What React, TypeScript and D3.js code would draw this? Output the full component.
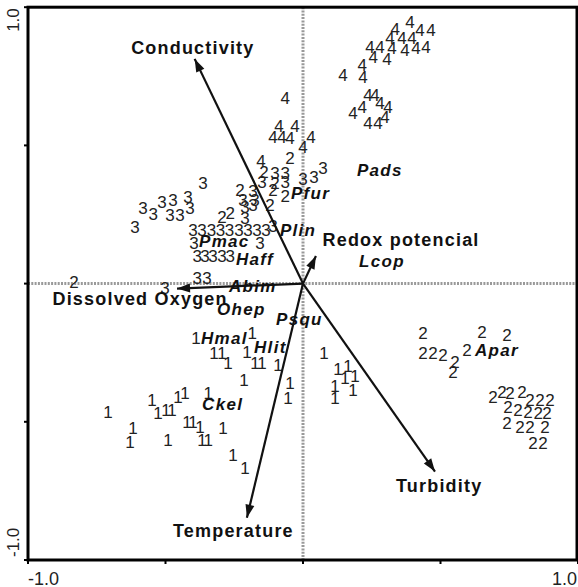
import * as d3 from "d3";

// site scores, grouped by site class (CCA axis 1, axis 2)
const sites1: [number, number][] = [
  [-0.389, -0.196], [-0.185, -0.178], [-0.324, -0.251], [-0.295, -0.251],
  [-0.204, -0.247], [-0.273, -0.287], [-0.175, -0.287], [-0.149, -0.287],
  [-0.091, -0.294], [-0.215, -0.348], [-0.709, -0.464], [-0.549, -0.421],
  [-0.527, -0.468], [-0.498, -0.457], [-0.476, -0.457], [-0.455, -0.41],
  [-0.429, -0.395], [-0.345, -0.395], [-0.618, -0.522], [-0.629, -0.573],
  [-0.491, -0.565], [-0.422, -0.5], [-0.4, -0.5], [-0.375, -0.518],
  [-0.367, -0.565], [-0.345, -0.565], [-0.291, -0.522], [-0.255, -0.62],
  [-0.211, -0.667], [-0.047, -0.359], [-0.055, -0.413], [0.076, -0.251],
  [0.127, -0.309], [0.164, -0.298], [0.153, -0.341], [0.189, -0.334],
  [0.116, -0.37], [0.182, -0.384], [0.116, -0.413],
];

const sites2: [number, number][] = [
  [-0.833, 0.006], [-0.047, 0.455], [-0.142, 0.404], [-0.102, 0.363],
  [-0.229, 0.339], [-0.109, 0.339], [-0.065, 0.317], [-0.12, 0.285],
  [-0.295, 0.241], [-0.265, 0.256],
  [0.436, -0.178], [0.651, -0.175], [0.742, -0.186], [0.436, -0.251],
  [0.473, -0.251], [0.509, -0.258], [0.553, -0.283], [0.545, -0.319],
  [0.596, -0.24], [0.691, -0.41], [0.724, -0.392], [0.753, -0.395],
  [0.796, -0.392], [0.825, -0.421], [0.862, -0.421], [0.898, -0.421],
  [0.745, -0.446], [0.782, -0.457], [0.818, -0.464], [0.855, -0.468],
  [0.887, -0.468], [0.742, -0.504], [0.789, -0.518], [0.825, -0.518],
  [0.88, -0.518], [0.836, -0.576], [0.873, -0.576],
];

const sites3: [number, number][] = [
  [-0.102, 0.4], [-0.065, 0.4], [-0.149, 0.368], [-0.065, 0.368],
  [0.0, 0.379], [0.04, 0.386], [0.073, 0.418], [-0.182, 0.335],
  [-0.218, 0.303], [-0.175, 0.303],
  [-0.582, 0.274], [-0.545, 0.252], [-0.513, 0.295], [-0.473, 0.303],
  [-0.418, 0.314], [-0.484, 0.248], [-0.447, 0.248], [-0.411, 0.274],
  [-0.364, 0.364], [-0.611, 0.205],
  [-0.211, 0.277], [-0.182, 0.285], [-0.211, 0.238],
  [-0.4, 0.194], [-0.367, 0.194], [-0.333, 0.194], [-0.3, 0.194],
  [-0.267, 0.194], [-0.233, 0.194], [-0.2, 0.194], [-0.167, 0.194],
  [-0.135, 0.194], [-0.109, 0.208],
  [-0.396, 0.147], [-0.156, 0.147],
  [-0.385, 0.1], [-0.356, 0.1], [-0.327, 0.1], [-0.295, 0.1], [-0.265, 0.1],
  [-0.385, 0.021], [-0.349, 0.021], [-0.502, -0.016],
];

const sites4: [number, number][] = [
  [0.389, 0.946], [0.335, 0.921], [0.425, 0.918], [0.465, 0.918],
  [0.316, 0.889], [0.36, 0.889], [0.396, 0.889], [0.244, 0.856],
  [0.28, 0.856], [0.324, 0.852], [0.371, 0.845], [0.411, 0.852],
  [0.447, 0.856], [0.255, 0.82], [0.305, 0.813], [0.215, 0.791],
  [0.145, 0.755], [0.218, 0.747], [0.236, 0.682], [0.262, 0.682],
  [0.28, 0.654], [0.309, 0.639], [0.215, 0.639], [0.182, 0.617],
  [0.298, 0.603], [0.236, 0.581], [0.273, 0.581],
  [-0.065, 0.672], [-0.087, 0.57], [-0.029, 0.57], [-0.109, 0.531],
  [-0.076, 0.531], [-0.047, 0.527], [0.029, 0.531], [0.0, 0.494],
  [-0.153, 0.444],
];

const siteGroups = [
  { label: "1", points: sites1 },
  { label: "2", points: sites2 },
  { label: "3", points: sites3 },
  { label: "4", points: sites4 },
];

// species scores (label start, baseline)
const species = [
  { name: "Pads", x: 0.196, y: 0.391 },
  { name: "Pfur", x: -0.044, y: 0.306 },
  { name: "Plin", x: -0.084, y: 0.173 },
  { name: "Pmac", x: -0.378, y: 0.131 },
  { name: "Haff", x: -0.244, y: 0.069 },
  { name: "Lcop", x: 0.204, y: 0.059 },
  { name: "Abim", x: -0.269, y: -0.032 },
  { name: "Ohep", x: -0.313, y: -0.115 },
  { name: "Psqu", x: -0.098, y: -0.149 },
  { name: "Hmal", x: -0.371, y: -0.22 },
  { name: "Hlit", x: -0.178, y: -0.251 },
  { name: "Apar", x: 0.625, y: -0.261 },
  { name: "Ckel", x: -0.367, y: -0.457 },
];

// environmental variables: arrow tip and label position
const envVars = [
  { name: "Conductivity", x: -0.394, y: 0.813, lx: -0.625, ly: 0.831 },
  { name: "Dissolved Oxygen", x: -0.458, y: -0.018, lx: -0.911, ly: -0.077 },
  { name: "Redox potencial", x: 0.047, y: 0.1, lx: 0.071, ly: 0.136 },
  { name: "Turbidity", x: 0.48, y: -0.68, lx: 0.338, ly: -0.753 },
  { name: "Temperature", x: -0.204, y: -0.847, lx: -0.473, ly: -0.916 },
];

const ticks = [-1, -0.5, 0, 0.5, 1];

export default function App() {
  const W = 578;
  const H = 587;
  const x = d3.scaleLinear().domain([-1, 1]).range([28, 578]);
  const y = d3.scaleLinear().domain([-1, 1]).range([560, 7.2]);
  const font = "'Liberation Sans', Arial, Helvetica, sans-serif";

  const head = (tx: number, ty: number) => {
    const px = x(tx), py = y(ty);
    const a = Math.atan2(py - y(0), px - x(0));
    const L = 13, w = 4.5;
    const bx = px - L * Math.cos(a), by = py - L * Math.sin(a);
    const p = d3.path();
    p.moveTo(px, py);
    p.lineTo(bx - w * Math.sin(a), by + w * Math.cos(a));
    p.lineTo(bx + w * Math.sin(a), by - w * Math.cos(a));
    p.closePath();
    return p.toString();
  };

  return (
    <svg
      width={W}
      height={H}
      style={{ position: "absolute", left: 0, top: 0, background: "#fff" }}
      fontFamily={font}
    >
      <rect width={W} height={H} fill="#fff" />
      {/* zero lines */}
      <line x1={x(0)} x2={x(0)} y1={y(1)} y2={y(-1)} stroke="#999" strokeWidth={3} strokeDasharray="2 1.3" />
      <line x1={x(-1)} x2={x(1)} y1={y(0)} y2={y(0)} stroke="#999" strokeWidth={3} strokeDasharray="2 1.3" />

      {/* site numbers */}
      {siteGroups.map((g) =>
        g.points.map((d, i) => (
          <text
            key={g.label + i}
            x={x(d[0])}
            y={y(d[1])}
            dy="0.36em"
            textAnchor="middle"
            fontSize={17}
            fill="#222"
          >
            {g.label}
          </text>
        ))
      )}

      {/* species */}
      {species.map((s) => (
        <text
          key={s.name}
          x={x(s.x)}
          y={y(s.y)}
          fontSize={17}
          fontWeight="bold"
          fontStyle="italic"
          letterSpacing={1.3}
          fill="#111"
        >
          {s.name}
        </text>
      ))}

      {/* environmental arrows */}
      {envVars.map((e) => (
        <g key={e.name}>
          <line x1={x(0)} y1={y(0)} x2={x(e.x)} y2={y(e.y)} stroke="#111" strokeWidth={2.2} />
          <path d={head(e.x, e.y)} fill="#111" />
          <text
            x={x(e.lx)}
            y={y(e.ly)}
            fontSize={18}
            fontWeight="bold"
            letterSpacing={1.2}
            fill="#111"
          >
            {e.name}
          </text>
        </g>
      ))}

      {/* frame and ticks */}
      <rect x={x(-1)} y={y(1)} width={x(1) - x(-1) - 1} height={y(-1) - y(1)} fill="none" stroke="#000" strokeWidth={3} />
      {ticks.map((t) => (
        <g key={t}>
          <line x1={x(t)} x2={x(t)} y1={y(-1)} y2={y(-1) + 4} stroke="#000" strokeWidth={2} />
          <line x1={x(-1) - 4} x2={x(-1)} y1={y(t)} y2={y(t)} stroke="#000" strokeWidth={2} />
        </g>
      ))}
      <text x={x(-1)} y={585} fontSize={18} fill="#222">-1.0</text>
      <text x={577} y={585} fontSize={18} textAnchor="end" fill="#222">1.0</text>
      <text transform={`translate(19,${y(1) + 1}) rotate(-90)`} fontSize={17} textAnchor="end" fill="#222">1.0</text>
      <text transform={`translate(19,${y(-1) - 3}) rotate(-90)`} fontSize={17} textAnchor="start" fill="#222">-1.0</text>
    </svg>
  );
}
